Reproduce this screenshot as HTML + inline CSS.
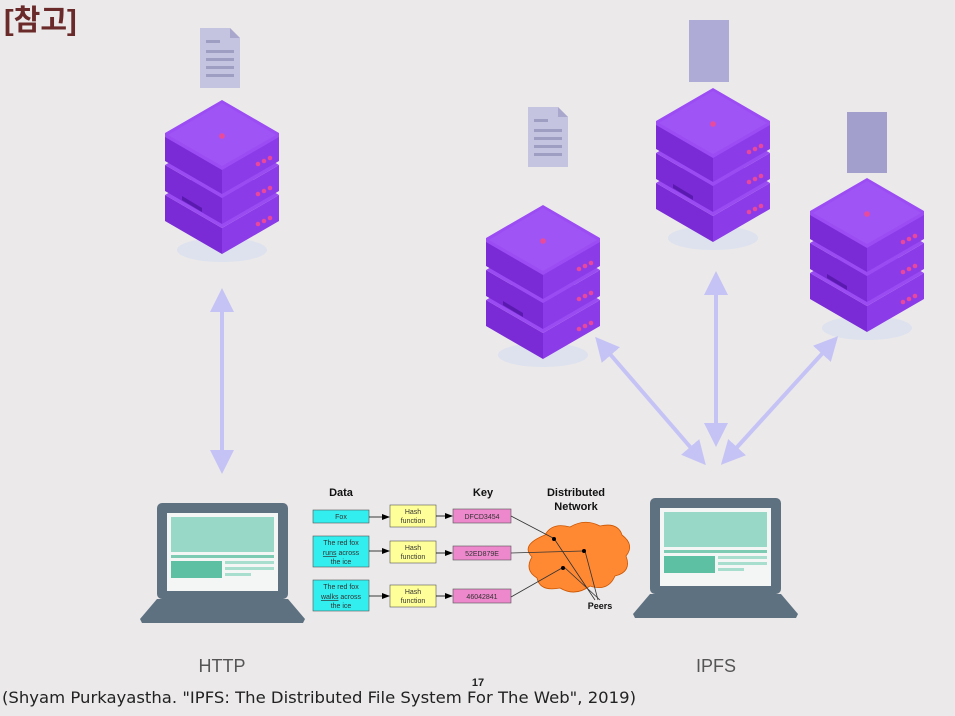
<!DOCTYPE html>
<html><head><meta charset="utf-8"><style>
html,body{margin:0;padding:0;background:#ebe9ea;}
svg{display:block;font-family:"Liberation Sans","DejaVu Sans",sans-serif;}
</style></head><body>
<svg width="955" height="716" viewBox="0 0 955 716" xmlns="http://www.w3.org/2000/svg">
<defs>
<g id="layer">
  <polygon points="-57,35 0,68 0,94 -57,61" fill="#7a2bd6"/>
  <polygon points="57,35 0,68 0,94 57,61" fill="#8b3be8"/>
  <polygon points="0,2 57,35 0,68 -57,35" fill="#9a4cf2"/>
  <circle cx="42" cy="61" r="2.3" fill="#e8479b"/><circle cx="36" cy="64" r="2.3" fill="#e8479b"/><circle cx="48" cy="58" r="2.3" fill="#e8479b"/>
</g>
<g id="server">
  <ellipse cx="0" cy="150" rx="45" ry="12" fill="#dde2ee"/>
  <use href="#layer" y="60"/>
  <use href="#layer" y="30"/>
  <polygon points="-40,96 -20,108 -20,112 -40,100" fill="#5a1ab0"/>
  <use href="#layer" y="0"/>
  <polygon points="0,0 57,33 57,37 0,70 -57,37 -57,33" fill="#9b4df3"/>
  <polygon points="0,3 54,35 0,66 -54,35" fill="#9f55f5"/>
  <circle cx="0" cy="36" r="2.8" fill="#ea4a9a"/>
</g>
<g id="doc">
  <polygon points="0,0 30,0 40,10 40,60 0,60" fill="#c4c3e0"/>
  <polygon points="30,0 40,10 30,10" fill="#a9a8cc"/>
  <g fill="#9e9dc2"><rect x="6" y="12" width="14" height="3"/><rect x="6" y="22" width="28" height="3"/><rect x="6" y="30" width="28" height="3"/><rect x="6" y="38" width="28" height="3"/><rect x="6" y="46" width="28" height="3"/></g>
</g>
<g id="laptop">
  <rect x="0" y="0" width="131" height="96" rx="5" fill="#5e7181"/>
  <rect x="10" y="10" width="111" height="78" fill="#f4f6f5"/>
  <rect x="14" y="14" width="103" height="35" fill="#98d8c6"/>
  <rect x="14" y="52" width="103" height="3" fill="#7ecbb4"/>
  <rect x="14" y="58" width="51" height="17" fill="#5ec0a3"/>
  <rect x="68" y="58" width="49" height="3" fill="#a8dece"/><rect x="68" y="64" width="49" height="3" fill="#a8dece"/><rect x="68" y="70" width="26" height="3" fill="#a8dece"/>
  <polygon points="0,96 131,96 148,116 146,120 -15,120 -17,116" fill="#5e7181"/>
</g>
<marker id="ah" markerWidth="6" markerHeight="6" refX="3" refY="3" orient="auto-start-reverse" markerUnits="strokeWidth"><path d="M0,0 L6,3 L0,6 z" fill="#c5c3f5"/></marker>
<marker id="sm" markerWidth="8" markerHeight="8" refX="7" refY="4" orient="auto" markerUnits="userSpaceOnUse"><path d="M0,1 L8,4 L0,7 z" fill="#000"/></marker>
</defs>

<text x="4" y="30" font-size="29" font-weight="bold" fill="#6b2a2a" font-family="'Liberation Sans','Noto Sans CJK KR',sans-serif">[참고]</text>

<use href="#doc" x="200" y="28"/>
<use href="#doc" x="528" y="107"/>
<rect x="689" y="20" width="40" height="62" fill="#aeabd6"/>
<rect x="847" y="112" width="40" height="61" fill="#a29fcc"/>

<use href="#server" x="222" y="100"/>
<use href="#server" x="543" y="205"/>
<use href="#server" x="713" y="88"/>
<use href="#server" x="867" y="178"/>

<g stroke="#c5c3f5" stroke-width="4" fill="none">
<line x1="222" y1="300" x2="222" y2="462" marker-start="url(#ah)" marker-end="url(#ah)"/>
<line x1="716" y1="283" x2="716" y2="435" marker-start="url(#ah)" marker-end="url(#ah)"/>
<line x1="603" y1="346" x2="698" y2="456" marker-start="url(#ah)" marker-end="url(#ah)"/>
<line x1="830" y1="345" x2="729" y2="456" marker-start="url(#ah)" marker-end="url(#ah)"/>
</g>

<use href="#laptop" x="157" y="503"/>
<use href="#laptop" x="650" y="498"/>

<g font-size="7" text-anchor="middle" fill="#333">
<text x="341" y="496" font-size="11" font-weight="bold" fill="#111">Data</text>
<text x="483" y="496" font-size="11" font-weight="bold" fill="#111">Key</text>
<text x="576" y="496" font-size="11" font-weight="bold" fill="#111">Distributed</text>
<text x="576" y="510" font-size="11" font-weight="bold" fill="#111">Network</text>
<rect x="313" y="510" width="56" height="13" fill="#33eeee" stroke="#555" stroke-width="0.6"/>
<text x="341" y="519">Fox</text>
<rect x="313" y="536" width="56" height="31" fill="#33eeee" stroke="#555" stroke-width="0.6"/>
<text x="341" y="545">The red fox</text><text x="341" y="555"><tspan text-decoration="underline">runs</tspan> across</text><text x="341" y="564">the ice</text>
<rect x="313" y="580" width="56" height="31" fill="#33eeee" stroke="#555" stroke-width="0.6"/>
<text x="341" y="589">The red fox</text><text x="341" y="599"><tspan text-decoration="underline">walks</tspan> across</text><text x="341" y="608">the ice</text>
<rect x="390" y="505" width="46" height="22" fill="#ffff99" stroke="#555" stroke-width="0.6"/>
<text x="413" y="514">Hash</text><text x="413" y="523">function</text>
<rect x="390" y="541" width="46" height="22" fill="#ffff99" stroke="#555" stroke-width="0.6"/>
<text x="413" y="550">Hash</text><text x="413" y="559">function</text>
<rect x="390" y="585" width="46" height="22" fill="#ffff99" stroke="#555" stroke-width="0.6"/>
<text x="413" y="594">Hash</text><text x="413" y="603">function</text>
<rect x="453" y="509" width="58" height="14" fill="#ee88cc" stroke="#555" stroke-width="0.6"/>
<text x="482" y="519">DFCD3454</text>
<rect x="453" y="546" width="58" height="14" fill="#ee88cc" stroke="#555" stroke-width="0.6"/>
<text x="482" y="556">52ED879E</text>
<rect x="453" y="589" width="58" height="14" fill="#ee88cc" stroke="#555" stroke-width="0.6"/>
<text x="482" y="599">46042841</text>
</g>
<g stroke="#000" stroke-width="0.8" marker-end="url(#sm)">
<line x1="369" y1="517" x2="389" y2="517"/><line x1="436" y1="516" x2="452" y2="516"/>
<line x1="369" y1="551" x2="389" y2="551"/><line x1="436" y1="553" x2="452" y2="553"/>
<line x1="369" y1="596" x2="389" y2="596"/><line x1="436" y1="596" x2="452" y2="596"/>
</g>
<path d="M545,535 Q552,522 570,527 Q585,518 600,526 Q618,522 622,535 Q635,545 626,556 Q632,572 615,576 Q608,592 590,586 Q575,597 560,588 Q540,592 537,578 Q524,570 532,557 Q520,545 545,535 z" fill="#ff8833" stroke="#cc5500" stroke-width="0.8"/>
<g stroke="#333" stroke-width="0.8" fill="none">
<line x1="511" y1="516" x2="553" y2="538"/>
<line x1="511" y1="553" x2="583" y2="551"/>
<line x1="511" y1="597" x2="562" y2="568"/>
<line x1="555" y1="540" x2="595" y2="600"/>
<line x1="585" y1="551" x2="598" y2="600"/>
<line x1="564" y1="567" x2="600" y2="600"/>
</g>
<g fill="#000"><circle cx="554" cy="539" r="2"/><circle cx="584" cy="551" r="2"/><circle cx="563" cy="568" r="2"/></g>
<text x="600" y="609" font-size="9" font-weight="bold" text-anchor="middle" fill="#111">Peers</text>

<text x="222" y="672" font-size="18" text-anchor="middle" fill="#555">HTTP</text>
<text x="716" y="672" font-size="18" text-anchor="middle" fill="#555">IPFS</text>
<text x="478" y="686" font-size="11" font-weight="bold" text-anchor="middle" fill="#222">17</text>
<text x="2" y="703" font-size="16" fill="#222" font-family="'DejaVu Sans',sans-serif" textLength="634" lengthAdjust="spacingAndGlyphs">(Shyam Purkayastha. "IPFS: The Distributed File System For The Web", 2019)</text>
</svg>
</body></html>
